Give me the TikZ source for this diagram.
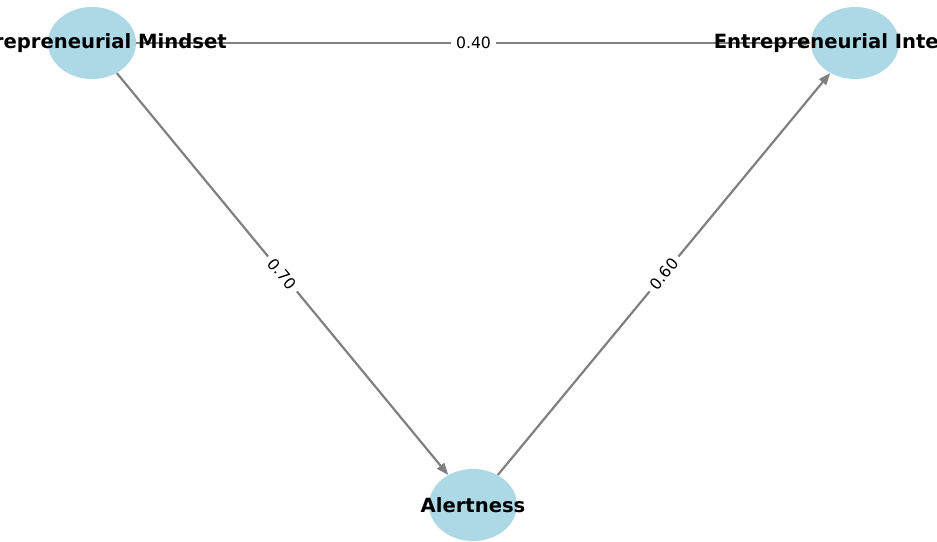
\documentclass[tikz,border=0pt]{standalone}
\usepackage{fontspec}
\setsansfont{DejaVu Sans}
\usepackage{tikz}
\usetikzlibrary{arrows.meta,shapes.geometric,backgrounds}
\definecolor{nodeblue}{HTML}{ADD8E6}
\definecolor{edgegray}{HTML}{808080}
\tikzset{
  varnode/.style={
    ellipse, fill=nodeblue, draw=none,
    minimum width=88pt, minimum height=72pt,
    inner sep=0pt
  },
  varlabel/.style={
    font=\fontsize{19.6}{22}\selectfont\sffamily\bfseries,
    inner sep=0pt
  },
  pathedge/.style={
    -{Triangle[length=12pt,width=9pt]}, line width=2.2pt, color=edgegray
  },
  coeflabel/.style={
    fill=white, text=black, sloped, midway,
    font=\fontsize{15.7}{17}\selectfont\sffamily,
    inner sep=5pt
  },
}

\begin{document}
\begin{tikzpicture}[x=1pt, y=-1pt]
  \useasboundingbox (0,0) rectangle (937,541);
  \clip (0,0) rectangle (937,541);
  % variables
  \node[varnode] (mindset) at (92,43) {};
  \node[varnode] (intent)  at (855,43) {};
  \node[varnode] (alert)   at (473,505) {};
  % paths with coefficients
  \begin{scope}[on background layer]
    \draw[pathedge] (mindset) -- node[coeflabel] {0.40} (intent);
    \draw[pathedge] (mindset) -- node[coeflabel] {0.70} (alert);
    \draw[pathedge] (alert) -- node[coeflabel] {0.60} (intent);
  \end{scope}
  \node[varlabel] (mindsetlbl) at (mindset.center) {Entrepreneurial Mindset};
  \node[varlabel] (intentlbl)  at (intent.center)  {Entrepreneurial Intention};
  \node[varlabel] (alertlbl)   at (alert.center)   {Alertness};
\end{tikzpicture}
\end{document}
